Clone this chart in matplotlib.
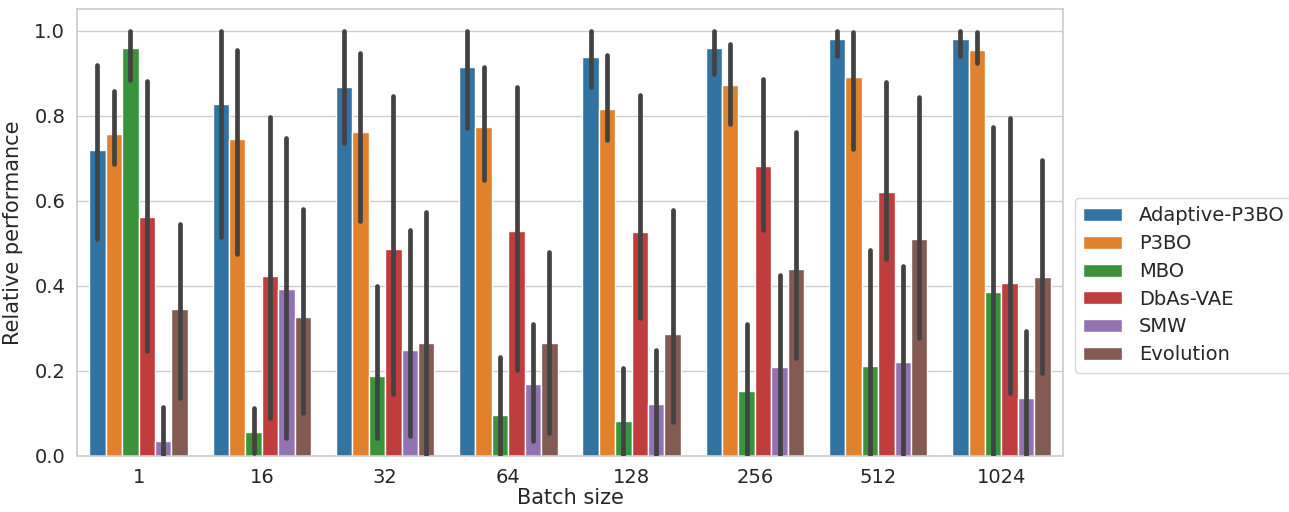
import numpy as np
import matplotlib
matplotlib.use("Agg")
import matplotlib.pyplot as plt

# relative performance per method and batch size, with CI bounds
batch_sizes = ["1", "16", "32", "64", "128", "256", "512", "1024"]
methods = ["Adaptive-P3BO", "P3BO", "MBO", "DbAs-VAE", "SMW", "Evolution"]
colors = ["#3274a1", "#e1812c", "#3a923a", "#c03d3e", "#9372b2", "#845b53"]

adaptive_p3bo = [0.720, 0.828, 0.867, 0.915, 0.938, 0.960, 0.980, 0.980]
adaptive_lo   = [0.510, 0.515, 0.736, 0.771, 0.869, 0.899, 0.941, 0.942]
adaptive_hi   = [0.920, 1.000, 1.000, 1.000, 1.000, 1.000, 1.000, 1.000]

p3bo    = [0.758, 0.746, 0.763, 0.775, 0.817, 0.872, 0.891, 0.956]
p3bo_lo = [0.686, 0.476, 0.554, 0.650, 0.744, 0.781, 0.723, 0.925]
p3bo_hi = [0.858, 0.955, 0.948, 0.916, 0.944, 0.969, 0.997, 0.997]

mbo    = [0.960, 0.056, 0.188, 0.097, 0.083, 0.152, 0.211, 0.385]
mbo_lo = [0.885, 0.008, 0.043, 0.000, 0.000, 0.000, 0.000, 0.000]
mbo_hi = [1.000, 0.112, 0.399, 0.233, 0.206, 0.311, 0.484, 0.775]

dbas    = [0.562, 0.423, 0.488, 0.529, 0.528, 0.683, 0.621, 0.407]
dbas_lo = [0.246, 0.090, 0.145, 0.202, 0.325, 0.532, 0.464, 0.149]
dbas_hi = [0.882, 0.798, 0.847, 0.869, 0.850, 0.887, 0.879, 0.795]

smw    = [0.036, 0.393, 0.250, 0.170, 0.123, 0.210, 0.220, 0.137]
smw_lo = [0.000, 0.043, 0.047, 0.035, 0.000, 0.000, 0.000, 0.000]
smw_hi = [0.116, 0.748, 0.531, 0.311, 0.250, 0.426, 0.446, 0.293]

evo    = [0.345, 0.327, 0.266, 0.265, 0.288, 0.439, 0.511, 0.421]
evo_lo = [0.136, 0.100, 0.000, 0.055, 0.079, 0.231, 0.278, 0.196]
evo_hi = [0.545, 0.580, 0.573, 0.479, 0.578, 0.763, 0.844, 0.697]

means = [adaptive_p3bo, p3bo, mbo, dbas, smw, evo]
lows  = [adaptive_lo, p3bo_lo, mbo_lo, dbas_lo, smw_lo, evo_lo]
highs = [adaptive_hi, p3bo_hi, mbo_hi, dbas_hi, smw_hi, evo_hi]

plt.rcParams["font.family"] = "DejaVu Sans"
grid_c = "#cccccc"
text_c = "#262626"

fig = plt.figure(figsize=(12.89, 5.12), dpi=100)
ax = fig.add_axes([0.0597, 0.1094, 0.765, 0.8725])

x = np.arange(len(batch_sizes))
n = len(methods)
w = 0.8 / n
for i, name in enumerate(methods):
    pos = x - 0.4 + w * (i + 0.5)
    ax.bar(pos, means[i], width=w, color=colors[i], edgecolor="white",
           linewidth=1.0, label=name, zorder=2)
    for p, lo, hi in zip(pos, lows[i], highs[i]):
        ax.plot([p, p], [lo, hi], color="#424242", lw=3.4,
                solid_capstyle="round", zorder=3)

ax.set_xlim(-0.5, len(batch_sizes) - 0.5)
ax.set_ylim(0, 1.051)
ax.set_xticks(x)
ax.set_xticklabels(batch_sizes)
ax.set_yticks(np.arange(0, 1.01, 0.2))
ax.set_yticklabels([f"{v:.1f}" for v in np.arange(0, 1.01, 0.2)])
ax.tick_params(length=0, labelsize=14, labelcolor=text_c, pad=8.5)
ax.yaxis.grid(True, color=grid_c, lw=1.0, zorder=0)
ax.set_axisbelow(True)
for s in ax.spines.values():
    s.set_color(grid_c)
    s.set_linewidth(1.2)

ax.set_xlabel("Batch size", fontsize=15, color=text_c, labelpad=1)
ax.set_ylabel("Relative performance", fontsize=15, color=text_c, labelpad=8)

leg = ax.legend(loc="center left", bbox_to_anchor=(1.002, 0.382), fontsize=14,
                frameon=True, handlelength=2.0, handleheight=0.65,
                handletextpad=0.85, borderpad=0.45, labelspacing=0.45)
leg.get_frame().set_edgecolor(grid_c)
for t in leg.get_texts():
    t.set_color(text_c)

fig.savefig("out.png", dpi=100)
